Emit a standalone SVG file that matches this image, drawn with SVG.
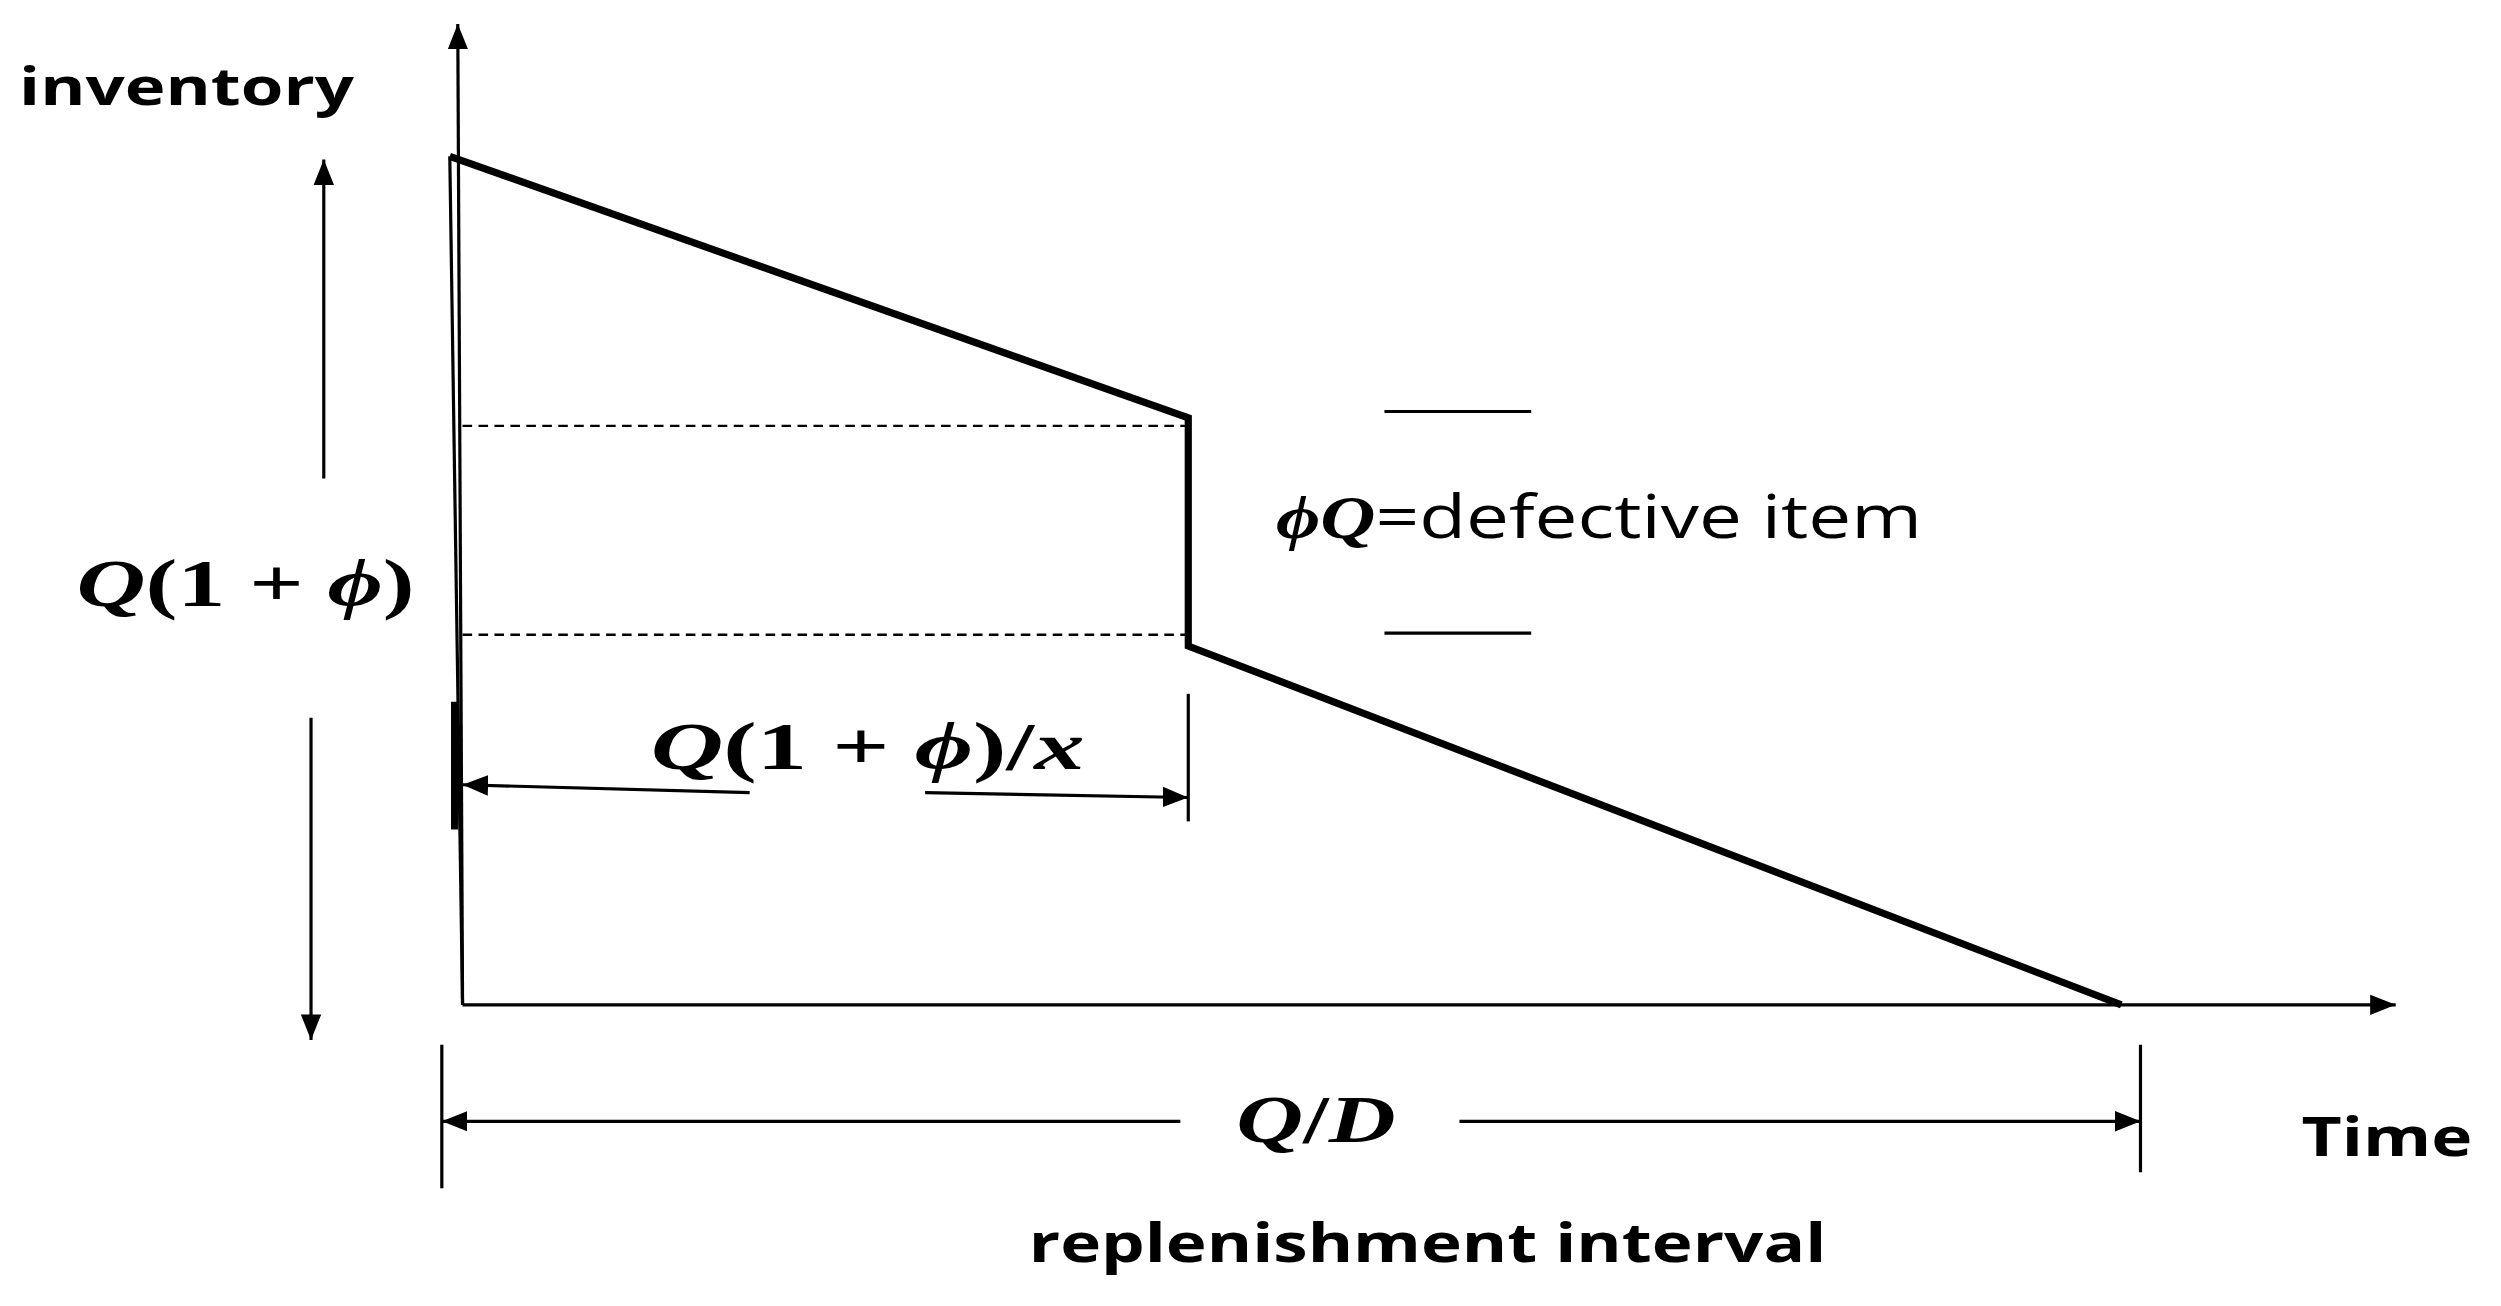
<svg xmlns="http://www.w3.org/2000/svg" width="2501" height="1306" viewBox="0 0 2501 1306">
<style>
.ln{stroke:#000;stroke-width:2;fill:none}
.th{stroke:#000;stroke-width:4.5;fill:none}
.ds{stroke:#000;stroke-width:1.5;stroke-dasharray:6,4;fill:none}
.lb{font-family:"Open Sans","Liberation Sans",sans-serif;font-weight:bold;fill:#000}
.mt{font-family:"Liberation Serif","DejaVu Serif",serif;font-weight:bold;font-style:italic;fill:#000}
.rg{font-family:"Open Sans","Liberation Sans",sans-serif;fill:#000}
</style>
<defs>
<marker id="ar2" viewBox="0 0 10 10" refX="10" refY="5" markerWidth="16" markerHeight="16" markerUnits="userSpaceOnUse" orient="auto"><path d="M0,1 L10,5 L0,9 z" fill="#000"/></marker>
</defs>
<rect width="2501" height="1306" fill="#fff"/>
<g transform="scale(1.595)">
<g id="connectors">
<line class="ln" x1="290" y1="630" x2="287" y2="15" marker-end="url(#ar2)"/>
<line class="ln" x1="290" y1="630" x2="1502" y2="630" marker-end="url(#ar2)"/>
<line class="ln" x1="282" y1="98" x2="290" y2="630"/>
<polyline class="th" points="282,98 745,262 745,405 1330,630"/>
<line class="ds" x1="290" y1="267" x2="745" y2="267"/>
<line class="ds" x1="290" y1="398" x2="745" y2="398"/>
<line class="ln" x1="868" y1="258" x2="960" y2="258"/>
<line class="ln" x1="868" y1="397" x2="960" y2="397"/>
<line class="ln" x1="203" y1="300" x2="203" y2="100" marker-end="url(#ar2)"/>
<line class="ln" x1="195" y1="450" x2="195" y2="652" marker-end="url(#ar2)"/>
<line class="th" x1="285" y1="440" x2="285" y2="520"/>
<line class="ln" x1="745" y1="435" x2="745" y2="515"/>
<line class="ln" x1="470" y1="497" x2="290" y2="492" marker-end="url(#ar2)"/>
<line class="ln" x1="580" y1="497" x2="745" y2="500" marker-end="url(#ar2)"/>
<line class="ln" x1="277" y1="655" x2="277" y2="745"/>
<line class="ln" x1="1342" y1="655" x2="1342" y2="735"/>
<line class="ln" x1="740" y1="703" x2="277" y2="703" marker-end="url(#ar2)"/>
<line class="ln" x1="915" y1="703" x2="1342" y2="703" marker-end="url(#ar2)"/>
</g>
<g id="labels">
<text class="lb" x="12" y="66" font-size="33" textLength="210" lengthAdjust="spacingAndGlyphs">inventory</text>
<text class="mt" x="48" y="380" font-size="42" textLength="212" lengthAdjust="spacingAndGlyphs">Q<tspan font-style="normal">(1 + </tspan>ϕ<tspan font-style="normal">)</tspan></text>
<text class="mt" x="408" y="482" font-size="42" textLength="272" lengthAdjust="spacingAndGlyphs">Q<tspan font-style="normal">(1 + </tspan>ϕ<tspan font-style="normal">)/</tspan>x</text>
<text x="800" y="337" font-size="38" textLength="405" lengthAdjust="spacingAndGlyphs"><tspan class="mt">ϕQ</tspan><tspan class="rg">=defective item</tspan></text>
<text class="mt" x="775" y="716" font-size="42" textLength="100" lengthAdjust="spacingAndGlyphs">Q<tspan font-style="normal">/</tspan>D</text>
<text class="lb" x="1443" y="725" font-size="34" textLength="107" lengthAdjust="spacingAndGlyphs">Time</text>
<text class="lb" x="645" y="791" font-size="34" textLength="500" lengthAdjust="spacingAndGlyphs">replenishment interval</text>
</g>
</g>
</svg>
